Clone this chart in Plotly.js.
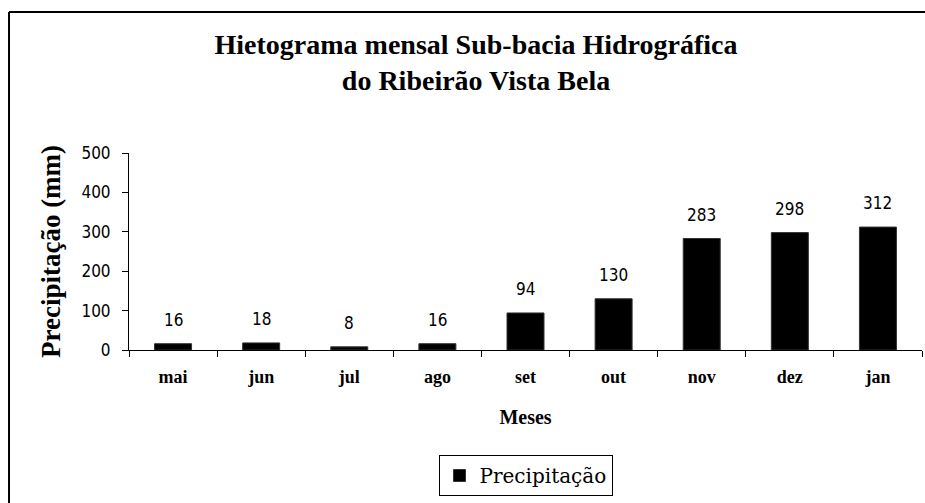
<!DOCTYPE html>
<html>
<head>
<meta charset="utf-8">
<script src="https://cdn.plot.ly/plotly-3.0.1.min.js"></script>
<style>html,body{margin:0;padding:0;background:#fff;}#chart{width:925px;height:503px;}</style>
</head>
<body>
<div id="chart"></div>
<script>
const months = ["mai", "jun", "jul", "ago", "set", "out", "nov", "dez", "jan"];
const precipitation = [16, 18, 8, 16, 94, 130, 283, 298, 312];
const yTicks = [0, 100, 200, 300, 400, 500];
const seriesName = "Precipitação";

const numFont = {family: "DejaVu Sans Condensed, DejaVu Sans, sans-serif", size: 17, color: "#000"};
const serifBold = "Liberation Serif, Times New Roman, serif";

const trace = {
  type: "bar",
  x: months,
  y: precipitation,
  name: seriesName,
  marker: {color: "#000", line: {color: "#333", width: 1}},
  hoverinfo: "x+y"
};

const labels = months.map((m, i) => ({
  x: m, y: precipitation[i], xref: "x", yref: "y",
  text: String(precipitation[i]), showarrow: false,
  yanchor: "middle", yshift: 24, font: numFont
}));

const layout = {
  width: 925, height: 503,
  margin: {l: 129, r: 3, t: 153, b: 153},
  paper_bgcolor: "#fff", plot_bgcolor: "#fff",
  bargap: 0.58,
  showlegend: true,
  title: {
    text: "<b>Hietograma mensal Sub-bacia Hidrográfica<br>do Ribeirão Vista Bela</b>",
    font: {family: serifBold, size: 28, color: "#000"},
    xref: "container", yref: "container", x: 0.5146, y: 0.893,
    xanchor: "center", yanchor: "middle"
  },
  xaxis: {
    type: "category",
    showline: true, linecolor: "#000", linewidth: 1,
    ticks: "outside", tickson: "boundaries", ticklen: 6, tickcolor: "#000",
    ticklabelstandoff: 10,
    showgrid: false, zeroline: false,
    tickfont: {family: serifBold, size: 18, color: "#000", weight: "bold"},
    title: {text: "<b>Meses</b>", font: {family: serifBold, size: 20, color: "#000"}, standoff: 24}
  },
  yaxis: {
    range: [0, 500], tickvals: yTicks, ticktext: yTicks.map(String),
    showline: true, linecolor: "#000", linewidth: 1,
    ticks: "outside", ticklen: 6, tickcolor: "#000",
    ticklabelstandoff: 8,
    showgrid: false, zeroline: false,
    tickfont: numFont,
    title: {text: "<b>Precipitação (mm)</b>", font: {family: serifBold, size: 27, color: "#000"}, standoff: 12}
  },
  legend: {
    orientation: "h", x: 0.5, xanchor: "center", y: -0.533, yanchor: "top",
    bordercolor: "#000", borderwidth: 1, bgcolor: "#fff",
    font: {family: "DejaVu Serif, serif", size: 20, color: "#000"}
  },
  annotations: labels,
  shapes: [
    {type: "line", xref: "paper", yref: "paper", x0: -0.1513, x1: 1.01, y0: 1.7157, y1: 1.7157, line: {color: "#000", width: 2}},
    {type: "line", xref: "paper", yref: "paper", x0: -0.1513, x1: -0.1513, y0: 1.7157, y1: -0.8, line: {color: "#000", width: 2}}
  ]
};

Plotly.newPlot("chart", [trace], layout, {displayModeBar: false, staticPlot: true});
</script>
</body>
</html>
